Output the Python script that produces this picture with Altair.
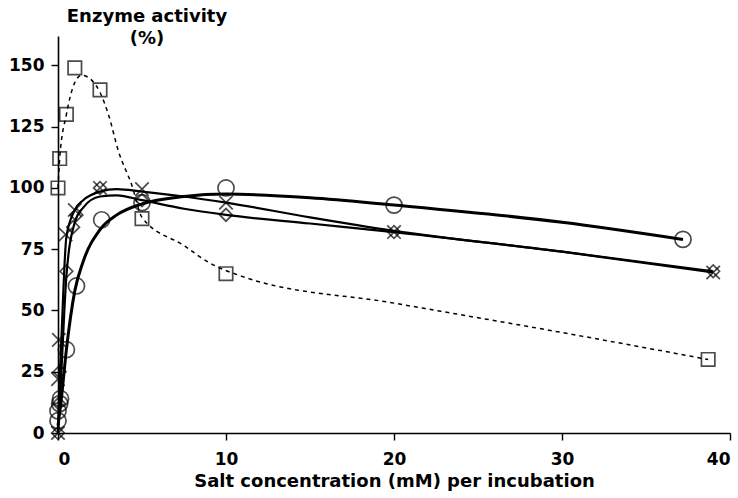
import altair as alt
import pandas as pd

# ---- marker data ----
sq_x = [0, 0.1, 0.5, 1.0, 2.5, 5, 10, 38.7]
sq_y = [100, 112, 130, 149, 140, 87.5, 65, 30]

ci_x = [0, 0, 0.1, 0.15, 0.5, 1.1, 2.6, 5, 10, 20, 37.2]
ci_y = [5, 9, 12, 14, 34, 60, 87, 94, 100, 93, 79]

cr_x = [0, 0, 0.05, 0.45, 1.0, 2.5, 5, 10, 20, 39]
cr_y = [0, 22, 38, 81, 91, 100, 99.5, 94, 82, 65.5]

di_x = [0, 0.05, 0.1, 0.5, 0.9, 1.1, 2.5, 5, 10, 20, 39]
di_y = [0, 12, 25, 66, 84, 89, 100, 95, 89, 82, 66]

# ---- fitted curves ----
sq_cx = [0, 0.1, 0.5, 1.0, 1.4, 2.0, 2.5, 3.0, 3.6, 4.4, 5, 7.5, 9, 11, 20, 30, 38.7]
sq_cy = [100, 112, 130, 143, 146, 144, 139, 130, 115, 101, 88, 76.5, 69.5, 63.8, 53, 41, 30]

ci_cx = [0, 0.2, 0.5, 1.0, 1.5, 2.5, 3.5, 5, 7.5, 10, 15, 20, 30, 37.2]
ci_cy = [3, 14, 34, 58, 70, 83, 89, 93.5, 96.5, 97.5, 96, 93, 86, 79]

cr_cx = [0, 0.1, 0.2, 0.5, 1.0, 1.5, 2.5, 3.5, 5, 7.5, 10, 15, 20, 30, 39]
cr_cy = [0, 22, 38, 80, 91, 95, 98.5, 99.5, 98.5, 96.5, 94, 88, 82.5, 74, 65.5]

di_cx = [0, 0.1, 0.2, 0.5, 1.0, 1.5, 2.5, 3.5, 5, 7.5, 10, 15, 20, 30, 39]
di_cy = [0, 12, 25, 64, 86, 92, 96.5, 97, 95, 91.5, 89, 85.5, 82, 74, 66]

x_ticks = [0, 10, 20, 30, 40]
y_ticks = [0, 25, 50, 75, 100, 125, 150]

FONT = "DejaVu Sans"

xs = alt.Scale(domain=[0, 40], nice=False)
ys = alt.Scale(domain=[0, 162], nice=False)

xax = alt.Axis(values=x_ticks, title="Salt concentration (mM) per incubation",
               labelFont=FONT, labelFontSize=17, labelFontWeight="bold",
               titleFont=FONT, titleFontSize=18, titleFontWeight="bold",
               tickSize=7, labelPadding=11, titlePadding=5,
               domainColor="black", tickColor="black", labelColor="black",
               titleColor="black", domainWidth=1.6, tickWidth=1.4, grid=False)
yax = alt.Axis(values=y_ticks, title=None,
               labelFont=FONT, labelFontSize=17, labelFontWeight="bold",
               tickSize=7, labelPadding=7,
               domainColor="black", tickColor="black", labelColor="black",
               domainWidth=1.6, tickWidth=1.4, grid=False)


def curve(cx, cy, width, dash=None):
    df = pd.DataFrame({"x": cx, "y": cy})
    kw = dict(color="black", strokeWidth=width, interpolate="monotone")
    if dash:
        kw["strokeDash"] = dash
    return alt.Chart(df).mark_line(**kw).encode(
        x=alt.X("x:Q", scale=xs, axis=xax),
        y=alt.Y("y:Q", scale=ys, axis=yax),
    )


def pts(px, py, shape, size, sw=1.7):
    df = pd.DataFrame({"x": px, "y": py})
    return alt.Chart(df).mark_point(shape=shape, size=size, filled=False,
                                    color="black", strokeWidth=sw).encode(
        x=alt.X("x:Q", scale=xs, axis=xax),
        y=alt.Y("y:Q", scale=ys, axis=yax),
    )


X_PATH = "M-1,-1L1,1M-1,1L1,-1"

chart = alt.layer(
    curve(sq_cx, sq_cy, 1.5, [4, 4]),
    curve(ci_cx, ci_cy, 3),
    curve(cr_cx, cr_cy, 2.2),
    curve(di_cx, di_cy, 2.2),
    pts(sq_x, sq_y, "square", 180),
    pts(ci_x, ci_y, "circle", 260),
    pts(cr_x, cr_y, X_PATH, 180),
    pts(di_x, di_y, "diamond", 160),
).properties(
    width=672, height=397,
    title=alt.TitleParams(text=["Enzyme activity", "(%)"], anchor="start",
                          align="center", dx=89, offset=-12,
                          font=FONT, fontSize=18, fontWeight="bold",
                          lineHeight=22, color="black", frame="group"),
    autosize=alt.AutoSizeParams(type="none"),
    padding={"left": 58, "top": 36, "right": 8, "bottom": 65},
).configure_view(stroke=None)

chart.save("out.html", embed_options={"renderer": "svg", "actions": False})
